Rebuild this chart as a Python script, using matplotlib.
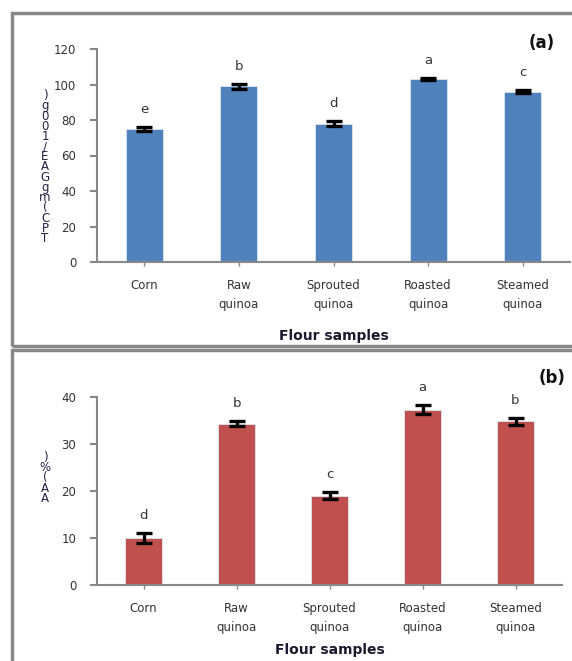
import matplotlib
matplotlib.use('Agg')
import matplotlib.pyplot as plt
from matplotlib.patches import Rectangle

categories = ['Corn', 'Raw\nquinoa', 'Sprouted\nquinoa', 'Roasted\nquinoa', 'Steamed\nquinoa']

tpc_values = [75, 99, 78, 103, 96]
tpc_errors = [1.0, 1.5, 1.5, 0.6, 1.0]
tpc_letters = ['e', 'b', 'd', 'a', 'c']

aa_values = [10, 34.3, 19, 37.3, 34.8]
aa_errors = [1.0, 0.5, 0.8, 1.0, 0.7]
aa_letters = ['d', 'b', 'c', 'a', 'b']

GRAY = '#888888'
TXT = '#333333'


def stacked(label):
    # Characters stacked upright, reading bottom to top
    chars = [c for c in label if c != ' ']
    return '\n'.join(reversed(chars))


def panel(ax, values, errors, letters, color, ymax, step, xpad):
    x = list(range(len(values)))
    ax.bar(x, values, width=0.39, color=color, edgecolor='#dde6f0', linewidth=0.6, zorder=2)
    ax.errorbar(x, values, yerr=errors, fmt='none', ecolor='black',
                elinewidth=2.4, capsize=6, capthick=2.4, zorder=3)
    for i, (v, e, l) in enumerate(zip(values, errors, letters)):
        ax.annotate(l, (i, v + e), xytext=(0, 8), textcoords='offset points',
                    ha='center', va='bottom', fontsize=9.5, color=TXT)
    ax.set_xlim(-0.5, len(values) - 0.5)
    ax.set_ylim(0, ymax)
    ax.set_yticks(range(0, ymax + 1, step))
    ax.set_xticks(x)
    ax.set_xticklabels(categories, fontsize=8.5, color=TXT, linespacing=1.6)
    for lab in ax.get_yticklabels():
        lab.set_fontsize(8.5)
        lab.set_color(TXT)
    for s in ['top', 'right']:
        ax.spines[s].set_visible(False)
    for s in ['left', 'bottom']:
        ax.spines[s].set_color(GRAY)
        ax.spines[s].set_linewidth(1.5)
    ax.tick_params(axis='y', direction='out', length=5, width=1.5, color=GRAY, pad=10)
    ax.tick_params(axis='x', direction='out', length=3, width=1, color=GRAY, pad=9)
    ax.set_xlabel('Flour samples', fontsize=10, fontweight='bold', color='#1a1a2e', labelpad=xpad)


fig = plt.figure(figsize=(5.72, 6.61), dpi=100)

# panel frames
fig.patches.append(Rectangle((12 / 572, 1 - 346 / 661), 0.99, 333 / 661, transform=fig.transFigure,
                             fill=False, edgecolor=GRAY, linewidth=2.5))
fig.patches.append(Rectangle((12 / 572, -0.02), 0.99, (661 - 350) / 661 + 0.02, transform=fig.transFigure,
                             fill=False, edgecolor=GRAY, linewidth=2.5))

ax1 = fig.add_axes([97 / 572, 1 - 262 / 661, 473 / 572, 213 / 661])
panel(ax1, tpc_values, tpc_errors, tpc_letters, '#4F81BD', 120, 20, 13)
fig.text(45 / 572, 1 - 167 / 661, stacked('TPC (mg GAE/100g)'), fontsize=8.5, color='#222244',
         ha='center', va='center', linespacing=0.72)
fig.text(542 / 572, 1 - 43 / 661, '(a)', fontsize=12, fontweight='bold', color='#111111',
         ha='center', va='center')

ax2 = fig.add_axes([97 / 572, 1 - 585 / 661, 465 / 572, 188 / 661])
panel(ax2, aa_values, aa_errors, aa_letters, '#C0504D', 40, 10, 7)
fig.text(45 / 572, 1 - 478 / 661, stacked('AA (%)'), fontsize=8.5, color='#222244',
         ha='center', va='center', linespacing=0.72)
fig.text(552 / 572, 1 - 378 / 661, '(b)', fontsize=12, fontweight='bold', color='#111111',
         ha='center', va='center')

fig.savefig('out.png', dpi=100, facecolor='white')
